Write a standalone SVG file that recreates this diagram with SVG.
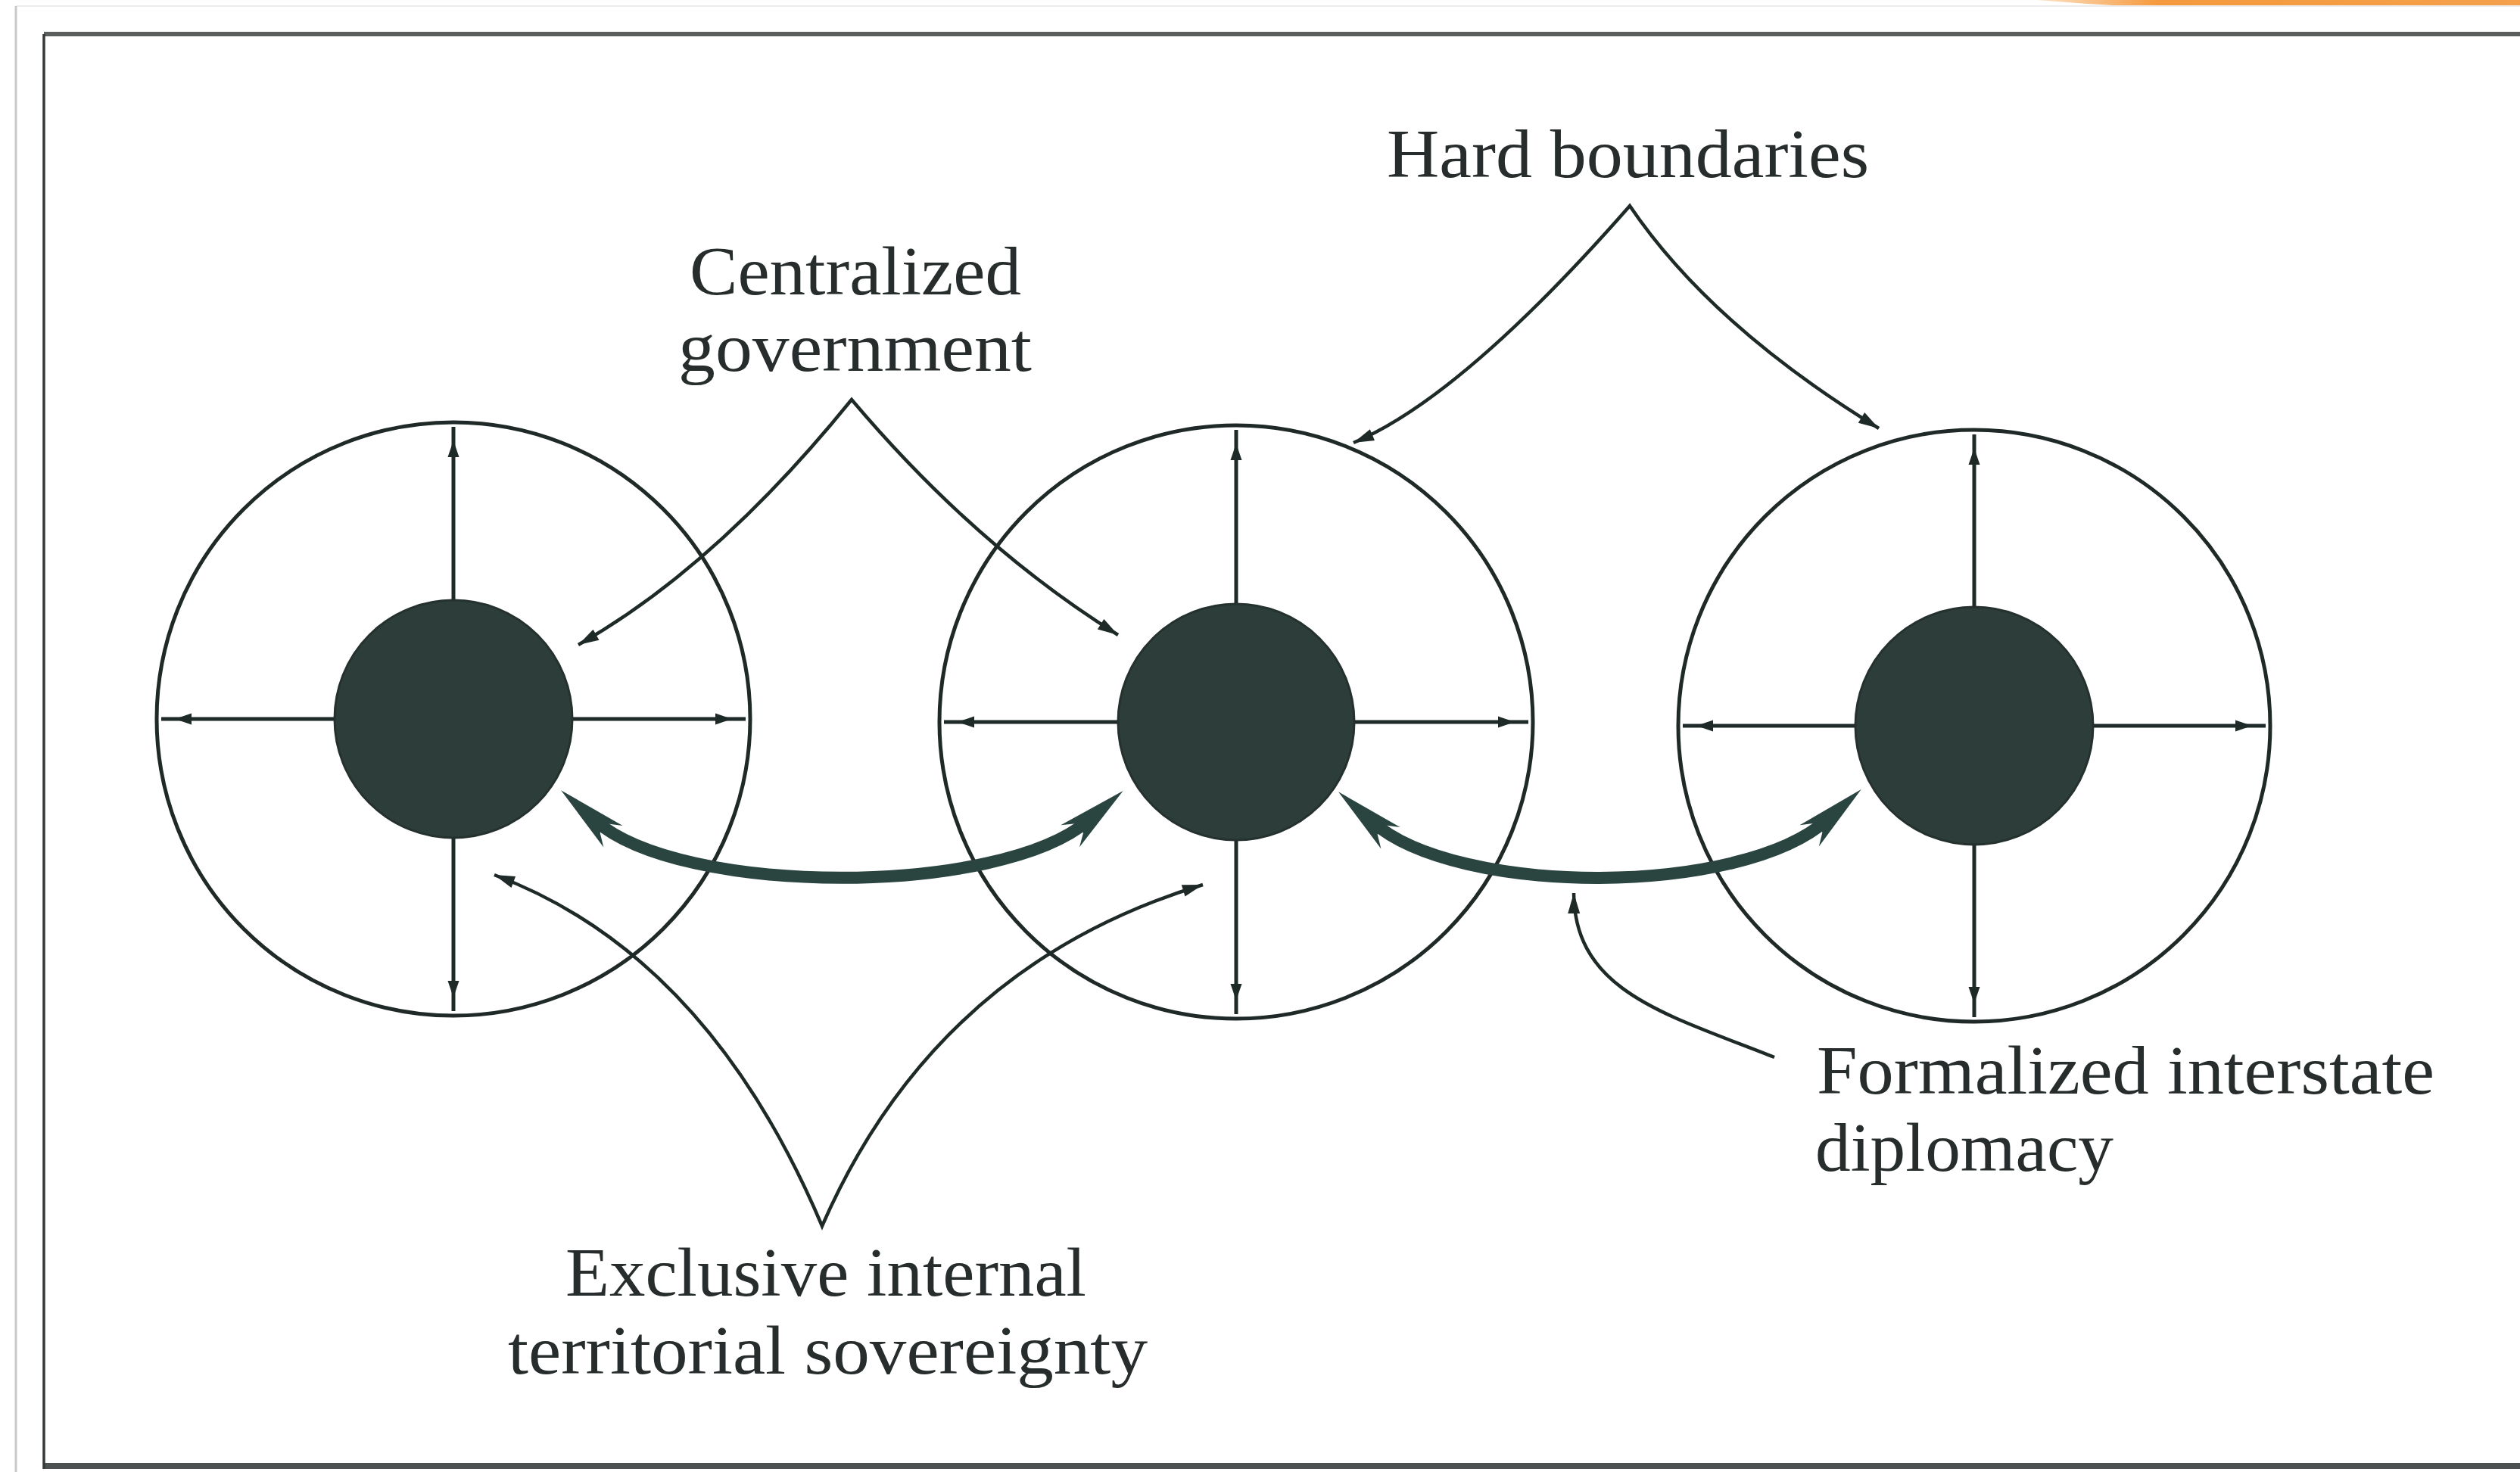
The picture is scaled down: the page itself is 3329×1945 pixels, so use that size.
<svg xmlns="http://www.w3.org/2000/svg" width="3329" height="1945" viewBox="0 0 3329 1945">
  <defs>
    <linearGradient id="orange" x1="0" y1="0" x2="1" y2="0">
      <stop offset="0" stop-color="#fde3c6"/>
      <stop offset="0.25" stop-color="#f59a3e"/>
      <stop offset="1" stop-color="#f4a04c"/>
    </linearGradient>
    <marker id="axHead" markerUnits="userSpaceOnUse" viewBox="-24 -9 26 18" refX="0" refY="0" markerWidth="26" markerHeight="18" orient="auto">
      <path d="M0,0 L-22,-7.5 L-22,7.5 Z" fill="#1e2a28"/>
    </marker>
    <marker id="thinHead" markerUnits="userSpaceOnUse" viewBox="-30 -10 32 20" refX="0" refY="0" markerWidth="32" markerHeight="20" orient="auto-start-reverse">
      <path d="M0,0 L-27,-8 L-27,8 Z" fill="#1e2a28"/>
    </marker>
    <marker id="bigHead" markerUnits="userSpaceOnUse" viewBox="-100 -25 110 50" refX="-60" refY="0" markerWidth="110" markerHeight="50" orient="auto-start-reverse">
      <path d="M0,0 L-92,-19 L-76,-8 L-76,8 L-92,19 Z" fill="#2a4440"/>
    </marker>
    <style>
      .outer { fill: none; stroke: #1f2a28; stroke-width: 5; }
      .core { fill: #2d3e3a; stroke: #24312e; stroke-width: 3; }
      .axis { fill: none; stroke: #1e2a28; stroke-width: 5; marker-mid: url(#axHead); }
      .callout { fill: none; stroke: #1e2a28; stroke-width: 4.5; stroke-linejoin: miter; stroke-miterlimit: 20; }
      .thick { fill: none; stroke: #2a4440; stroke-width: 16; }
      .label { font-family: "Liberation Serif", "DejaVu Serif", serif; font-size: 90px; fill: #272d2c; }
    </style>
  </defs>

  <rect x="0" y="0" width="3329" height="1945" fill="#ffffff"/>
  <g id="page">
    <path d="M2690 0 C2740 3 2780 8 2830 8 L3329 8 L3329 0 Z" fill="url(#orange)"/>
    <line x1="21" y1="8" x2="3329" y2="8" stroke="#ececec" stroke-width="2"/>
    <line x1="21" y1="8" x2="21" y2="1945" stroke="#c9c9c9" stroke-width="3"/>
    <line x1="58" y1="45" x2="3329" y2="45" stroke="#5a5f5e" stroke-width="6"/>
    <line x1="58" y1="1937" x2="3329" y2="1937" stroke="#4b5150" stroke-width="8"/>
    <line x1="58" y1="45" x2="58" y2="1941" stroke="#333a39" stroke-width="3.5"/>
  </g>

  <g id="state-1">
    <circle class="outer" cx="599" cy="950" r="392"/>
    <path class="axis" d="M756 950 L967 950 L985 950"/>
    <path class="axis" d="M442 950 L231 950 L213 950"/>
    <path class="axis" d="M599 793 L599 582 L599 564"/>
    <path class="axis" d="M599 1107 L599 1318 L599 1336"/>
    <circle class="core" cx="599" cy="950" r="157"/>
  </g>

  <g id="state-2">
    <circle class="outer" cx="1633" cy="954" r="392"/>
    <path class="axis" d="M1789 954 L2001 954 L2019 954"/>
    <path class="axis" d="M1477 954 L1265 954 L1247 954"/>
    <path class="axis" d="M1633 798 L1633 586 L1633 568"/>
    <path class="axis" d="M1633 1110 L1633 1322 L1633 1340"/>
    <circle class="core" cx="1633" cy="954" r="156"/>
  </g>

  <g id="state-3">
    <circle class="outer" cx="2608" cy="959" r="391"/>
    <path class="axis" d="M2765 959 L2975 959 L2993 959"/>
    <path class="axis" d="M2451 959 L2241 959 L2223 959"/>
    <path class="axis" d="M2608 802 L2608 592 L2608 574"/>
    <path class="axis" d="M2608 1116 L2608 1326 L2608 1344"/>
    <circle class="core" cx="2608" cy="959" r="157"/>
  </g>

  <g id="connectors">
    <path class="callout" d="M764 852 Q946 749 1125 528 Q1288 721 1477 839" marker-start="url(#thinHead)" marker-end="url(#thinHead)"/>
    <path class="callout" d="M1788 585 Q1931 525 2153 272 Q2260 430 2482 566" marker-start="url(#thinHead)" marker-end="url(#thinHead)"/>
    <path class="callout" d="M653 1156 Q934 1261 1086 1620 Q1236 1276 1589 1169" marker-start="url(#thinHead)" marker-end="url(#thinHead)"/>
    <path class="callout" d="M2344 1397 C2200 1340 2080 1310 2079 1180" marker-end="url(#thinHead)"/>
    <path class="thick" d="M786 1084 C900 1185 1320 1185 1438 1084" marker-start="url(#bigHead)" marker-end="url(#bigHead)"/>
    <path class="thick" d="M1813 1086 C1925 1185 2300 1185 2414 1083" marker-start="url(#bigHead)" marker-end="url(#bigHead)"/>
  </g>

  <g id="label-hard-boundaries">
    <text class="label" x="1832" y="234" textLength="637" lengthAdjust="spacingAndGlyphs">Hard boundaries</text>
  </g>
  <g id="label-centralized-government">
    <text class="label" x="911" y="389" textLength="438" lengthAdjust="spacingAndGlyphs">Centralized</text>
    <text class="label" x="896" y="490" textLength="467" lengthAdjust="spacingAndGlyphs">government</text>
  </g>
  <g id="label-exclusive-sovereignty">
    <text class="label" x="747" y="1712" textLength="688" lengthAdjust="spacingAndGlyphs">Exclusive internal</text>
    <text class="label" x="671" y="1815" textLength="845" lengthAdjust="spacingAndGlyphs">territorial sovereignty</text>
  </g>
  <g id="label-formalized-diplomacy">
    <text class="label" x="2400" y="1445" textLength="816" lengthAdjust="spacingAndGlyphs">Formalized interstate</text>
    <text class="label" x="2398" y="1547" textLength="394" lengthAdjust="spacingAndGlyphs">diplomacy</text>
  </g>
</svg>
